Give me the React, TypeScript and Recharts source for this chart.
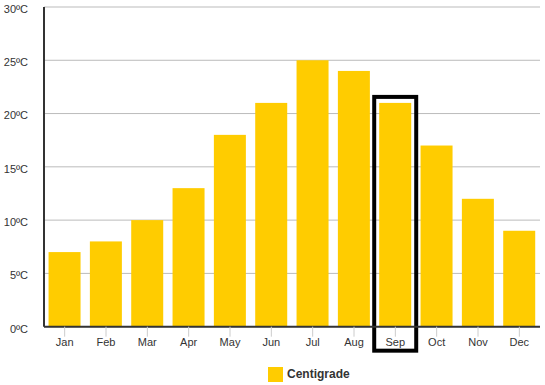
import React from 'react';
import { BarChart, Bar, XAxis, YAxis, CartesianGrid, Legend } from 'recharts';

const months = ['Jan', 'Feb', 'Mar', 'Apr', 'May', 'Jun', 'Jul', 'Aug', 'Sep', 'Oct', 'Nov', 'Dec'];
const centigrade = [7, 8, 10, 13, 18, 21, 25, 24, 21, 17, 12, 9];
const yTicks = [0, 5, 10, 15, 20, 25, 30];
const highlighted = 'Sep';

const data = months.map((m, i) => ({ month: m, Centigrade: centigrade[i] }));

const BarShape = (props: any) => {
  const { x, y, width, height, payload, fill } = props;
  return (
    <g>
      <rect x={x} y={y} width={width} height={height} fill={fill} />
      {payload && payload.month === highlighted ? (
        <rect
          x={x - 5}
          y={y - 6}
          width={width + 10}
          height={height + 30}
          fill="none"
          stroke="#000"
          strokeWidth={4}
        />
      ) : null}
    </g>
  );
};

export default function App() {
  return (
    <div style={{ position: 'absolute', left: 0, top: 0, background: '#fff' }}>
      <BarChart
        width={545}
        height={385}
        data={data}
        margin={{ top: 7, right: 5, left: 4, bottom: 3 }}
        barCategoryGap="11%"
      >
        <CartesianGrid vertical={false} stroke="#bbbbbb" strokeWidth={1} />
        <XAxis
          dataKey="month"
          axisLine={{ stroke: '#333', strokeWidth: 2 }}
          tickLine={{ stroke: '#ccc' }}
          tickSize={10}
          tick={{ fill: '#333', fontSize: 11, fontFamily: 'Liberation Sans, Arial, sans-serif' }}
          interval={0}
          height={40}
        />
        <YAxis
          domain={[0, 30]}
          ticks={yTicks}
          tickFormatter={(v: number) => `${v}ºC`}
          axisLine={{ stroke: '#333', strokeWidth: 2 }}
          tickLine={false}
          tickMargin={10}
          tick={{ fill: '#333', fontSize: 11, fontFamily: 'Liberation Sans, Arial, sans-serif', dy: 2 }}
          width={40}
        />
        <Legend
          verticalAlign="bottom"
          iconType="square"
          iconSize={15}
          wrapperStyle={{ left: 268, width: 'auto', fontFamily: 'Liberation Sans, Arial, sans-serif', fontSize: 12, fontWeight: 'bold' }}
          formatter={(v: string) => <span style={{ color: '#333' }}>{v}</span>}
        />
        <Bar dataKey="Centigrade" fill="#FFCC00" isAnimationActive={false} shape={BarShape} />
      </BarChart>
    </div>
  );
}
